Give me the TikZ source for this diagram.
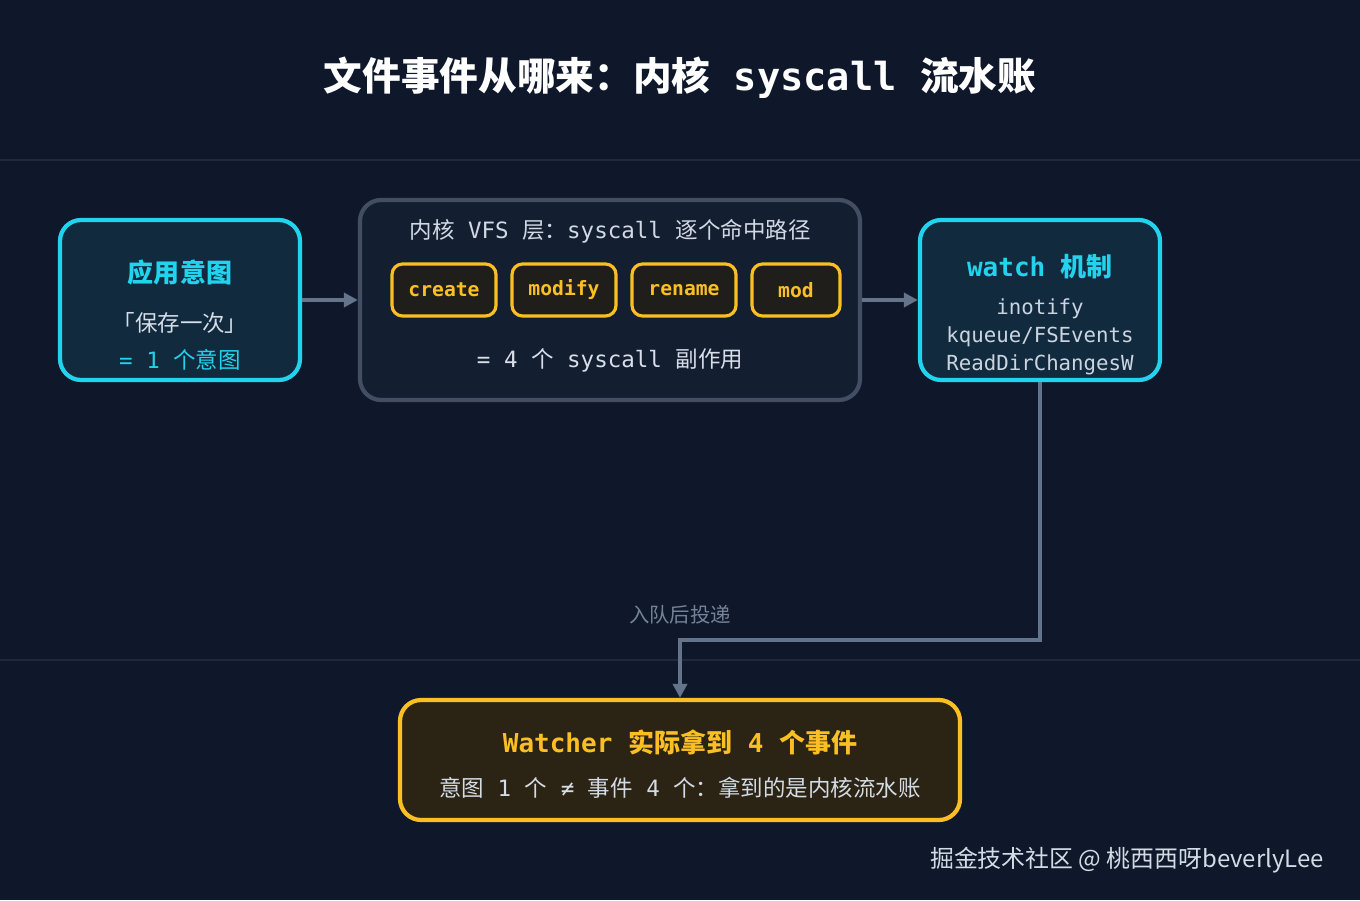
\documentclass[tikz,border=0pt]{standalone}
\usepackage{fontspec}
\setmainfont{Noto Sans CJK SC}
\setmonofont{DejaVu Sans Mono}
\usetikzlibrary{positioning,arrows.meta}
\definecolor{bgc}{HTML}{0F172A}
\definecolor{cyanc}{HTML}{22D3EE}
\definecolor{yelc}{HTML}{FBBF24}
\definecolor{grayc}{HTML}{64748B}
\definecolor{linec}{HTML}{1E293B}
\definecolor{textc}{HTML}{CBD5E1}
\definecolor{vfsfill}{HTML}{131E31}
\definecolor{resfill}{HTML}{2B2313}
\definecolor{chipfill}{HTML}{1F1E1A}
\tikzset{
  box/.style={draw, line width=1.2pt, rounded corners=6pt},
  cbox/.style={box, draw=cyanc, fill=cyanc!10!bgc},
  ybox/.style={box, draw=yelc, fill=resfill},
  chip/.style={draw=yelc, line width=0.9pt, fill=chipfill, rounded corners=3pt,
    minimum height=0.52cm, text=yelc, font=\ttfamily\bfseries\fontsize{5.6}{6}\selectfont},
  txt/.style={font=\fontsize{6.4}{7}\selectfont, text=textc},
  flow/.style={draw=grayc, line width=1pt, -{Triangle[length=4pt,width=4pt]}}
}
\begin{document}
\begin{tikzpicture}
\useasboundingbox[fill=bgc] (0,0) rectangle (13.6,9);
\draw[linec, line width=0.6pt] (0,7.4) -- (13.6,7.4);
\draw[linec, line width=0.6pt] (0,2.4) -- (13.6,2.4);
% title
\node (title) at (6.8,8.22) [text=white, font=\bfseries\fontsize{11}{12}\selectfont]
  {文件事件从哪来：内核{\ttfamily\ syscall\ }流水账};
% application intent
\node (app) [cbox, minimum width=2.4cm, minimum height=1.6cm] at (1.8,6) {};
\node [text=cyanc, font=\bfseries\fontsize{7.4}{8}\selectfont] at (1.8,6.27) {应用意图};
\node [txt, text=textc!80] at (1.8,5.77) {「保存一次」};
\node [txt, text=cyanc] at (1.8,5.4) {{\ttfamily = 1\ }个意图};
% kernel VFS
\node (vfs) [box, draw=linec!50!grayc, fill=vfsfill, minimum width=5cm, minimum height=2cm] at (6.1,6) {};
\node [txt, text=textc!90] at (6.1,6.69) {内核{\ttfamily\ VFS\ }层：{\ttfamily syscall\ }逐个命中路径};
\node (create) [chip, minimum width=1.04cm] at (4.44,6.1) {create};
\node (modify) [chip, minimum width=1.04cm] at (5.64,6.1) {modify};
\node (rename) [chip, minimum width=1.04cm] at (6.84,6.1) {rename};
\node (mod) [chip, minimum width=0.88cm] at (7.96,6.1) {mod};
\node [txt, text=textc!75] at (6.1,5.4) {{\ttfamily = 4\ }个{\ttfamily\ syscall\ }副作用};
% watch
\node (watch) [cbox, minimum width=2.4cm, minimum height=1.6cm] at (10.4,6) {};
\node [text=cyanc, font=\bfseries\fontsize{7.4}{8}\selectfont] at (10.4,6.33) {{\ttfamily watch\ }机制};
\node [txt, font=\ttfamily\fontsize{5.9}{7.9}\selectfont, align=center] at (10.4,5.63)
  {inotify\\kqueue/FSEvents\\ReadDirChangesW};
% watcher result
\node (res) [ybox, minimum width=5.6cm, minimum height=1.2cm] at (6.8,1.4) {};
\node [text=yelc, font=\bfseries\fontsize{7.4}{8}\selectfont] at (6.8,1.58) {{\ttfamily Watcher\ }实际拿到{\ttfamily\ 4\ }个事件};
\node [txt, text=textc!85] at (6.8,1.12) {意图{\ttfamily\ 1\ }个{\ttfamily\ ≠\ }事件{\ttfamily\ 4\ }个：拿到的是内核流水账};
% connectors
\draw[flow] (app.east) -- (vfs.west);
\draw[flow] (vfs.east) -- (watch.west);
\coordinate (bend) at (6.8,2.6);
\draw[flow] (watch.south) |- (bend) -- (res.north);
\node [txt, text=grayc!90!white, font=\fontsize{5.8}{6}\selectfont, above=1pt of bend] {入队后投递};
% watermark
\node (mark) at (11.27,0.4) [text=textc!85, font=\fontsize{6.8}{7}\selectfont] {掘金技术社区 @ 桃西西呀beverlyLee};
\end{tikzpicture}
\end{document}
